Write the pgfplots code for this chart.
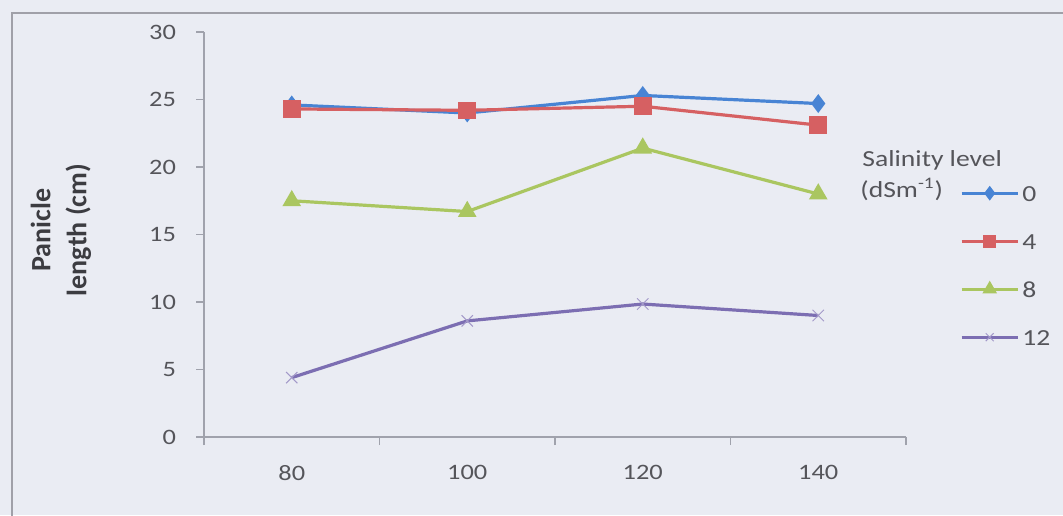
\documentclass[border=0pt]{standalone}
\usepackage{fontspec}
\setmainfont[FakeStretch=1.2]{Carlito}
\newfontfamily\labelfont{Carlito}
\usepackage{pgfplots}
\pgfplotsset{compat=1.18}
\definecolor{bg}{RGB}{234,236,243}
\definecolor{framec}{RGB}{160,160,168}
\definecolor{axisc}{RGB}{160,162,172}
\definecolor{tickt}{RGB}{85,85,90}
\definecolor{labt}{RGB}{60,60,65}
\definecolor{cA}{RGB}{72,132,212}
\definecolor{cB}{RGB}{214,96,98}
\definecolor{cC}{RGB}{170,198,96}
\definecolor{cD}{RGB}{124,110,178}
\begin{document}
\begin{tikzpicture}
\path[use as bounding box, fill=bg] (0,0) rectangle (531.5pt,257.5pt);
\clip (0,0) rectangle (531.5pt,257.5pt);
\draw[framec, line width=1pt] (6pt,-20pt) rectangle (560pt,251pt);
\begin{axis}[
  at={(102pt,39pt)}, anchor=south west,
  scale only axis, width=351pt, height=202.5pt,
  xmin=0, xmax=4, ymin=0, ymax=30,
  axis lines*=left, axis line style={draw=axisc, line width=0.8pt, -},
  xtick={0,1,2,3,4}, xticklabels={80,100,120,140,},
  xticklabel style={xshift=43.875pt, yshift=-6.5pt},
  ytick={0,5,...,30},
  yticklabel style={xshift=-6.5pt},
  tick align=outside, major tick length=4pt,
  tick style={draw=axisc, line width=0.8pt},
  ticklabel style={text=tickt, font=\fontsize{11}{13}\selectfont},
  /pgf/number format/assume math mode=true,
  legend style={at={(1.068,0.64)}, anchor=north west, draw=none, fill=none,
     text=tickt, font=\fontsize{11.5}{13}\selectfont, row sep=13pt, column sep=0pt,
     nodes={inner sep=1.5pt, text height=8pt, text depth=0pt}},
  legend cell align=left,
  legend image code/.code={\draw[#1, mark repeat=2, mark phase=2, every mark/.append style={scale=0.7}] plot coordinates {(0pt,0pt)(14pt,0pt)(28pt,0pt)};},
  every axis plot/.append style={line width=1.6pt},
]
\addplot[color=cA, mark=diamond*, mark size=3.4pt, mark options={solid}] coordinates {(0.5,24.6)(1.5,24.0)(2.5,25.3)(3.5,24.7)};
\addlegendentry{0}
\addplot[color=cB, mark=square*, mark size=3.6pt, mark options={solid}] coordinates {(0.5,24.3)(1.5,24.2)(2.5,24.5)(3.5,23.1)};
\addlegendentry{4}
\addplot[color=cC, mark=triangle*, mark size=3.8pt, mark options={solid}] coordinates {(0.5,17.5)(1.5,16.7)(2.5,21.4)(3.5,18.0)};
\addlegendentry{8}
\addplot[color=cD, mark=x, mark size=4pt, mark options={solid, line width=0.5pt, draw=cD!70}] coordinates {(0.5,4.4)(1.5,8.6)(2.5,9.85)(3.5,9.0)};
\addlegendentry{12}
\end{axis}
\node[anchor=base west, text=tickt, font=\fontsize{11.5}{13}\selectfont, inner sep=0pt] at (431pt,174.5pt) {Salinity level};
\node[anchor=base west, text=tickt, font=\fontsize{11.5}{13}\selectfont, inner sep=0pt] at (430pt,159pt) {(dSm\textsuperscript{-1})};
\node[rotate=90, align=center, text=labt, font=\labelfont\bfseries\fontsize{14}{18}\selectfont] at (30.5pt,142.5pt) {Panicle\\length (cm)};
\end{tikzpicture}
\end{document}
